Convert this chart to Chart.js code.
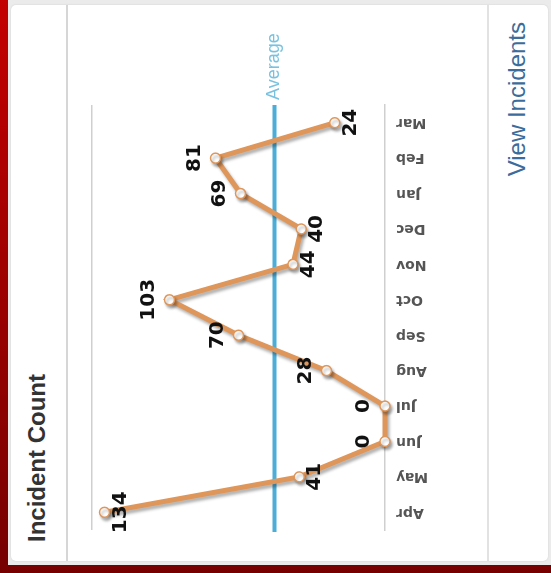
<!DOCTYPE html>
<html>
<head>
<meta charset="utf-8">
<script src="https://cdn.jsdelivr.net/npm/chart.js@4"></script>
<style>
  html, body { margin: 0; padding: 0; width: 551px; height: 573px; overflow: hidden; background: #8a0000; }
  /* the whole card is laid out upright, then turned a quarter left like the screenshot */
  #frame {
    position: absolute; left: 0; top: 0; width: 573px; height: 551px;
    transform-origin: 0 0; transform: translateY(573px) rotate(-90deg);
    background: linear-gradient(to right, #760000, #c40000);
  }
  #panel { position: absolute; left: 8px; top: 8px; right: 0; bottom: 0; background: #ebebeb; }
  #card {
    position: absolute; left: 12px; top: 11px; width: 556px; height: 537px;
    background: #fff; border-radius: 5px; box-shadow: 0 0 2px rgba(0,0,0,0.12);
  }
  .divider { position: absolute; left: 12px; width: 556px; height: 2px; background: #d6d6d6; }
  #title {
    position: absolute; left: 31px; top: 23px; line-height: 30px;
    font: bold 24px "Liberation Sans", Arial, sans-serif; color: #333;
  }
  #link {
    position: absolute; right: 22px; top: 503px; line-height: 30px;
    font: 24px "Liberation Sans", Arial, sans-serif; color: #3b6c9b;
  }
  #chartBox { position: absolute; left: 0; top: 70px; width: 573px; height: 417px; }
</style>
</head>
<body>
<div id="frame">
  <div id="panel"></div>
  <div id="card"></div>
  <div class="divider" style="top:66px"></div>
  <div class="divider" style="top:487px; background:#e2e2e2"></div>
  <div id="title">Incident Count</div>
  <div id="link">View Incidents</div>
  <div id="chartBox"><canvas id="myChart" width="573" height="417"></canvas></div>
</div>
<script>
const months = ['Apr', 'May', 'Jun', 'Jul', 'Aug', 'Sep', 'Oct', 'Nov', 'Dec', 'Jan', 'Feb', 'Mar'];
const incidents = [134, 41, 0, 0, 28, 70, 103, 44, 40, 69, 81, 24];
const axisMax = 140;

const average = incidents.reduce((a, b) => a + b, 0) / incidents.length;

// which side of the point each value label sits on
const labelSide = ['below', 'below', 'above', 'above', 'above', 'above', 'above', 'below', 'below', 'above', 'above', 'below'];

const averageLine = {
    id: 'averageLine',
    beforeDatasetsDraw(chart) {
        const c = chart.ctx, area = chart.chartArea;
        const y = chart.scales.y.getPixelForValue(average);
        c.save();
        c.strokeStyle = '#4aaed8';
        c.lineWidth = 4;
        c.beginPath();
        c.moveTo(area.left - 2, y);
        c.lineTo(area.right, y);
        c.stroke();
        c.fillStyle = '#79c2df';
        c.font = '18px "Liberation Sans", Arial, sans-serif';
        c.textAlign = 'left';
        c.textBaseline = 'middle';
        c.fillText('Average', area.right + 5, y);
        c.restore();
    }
};

const lineShadow = {
    id: 'lineShadow',
    beforeDatasetDraw(chart) {
        const c = chart.ctx;
        c.save();
        c.shadowColor = 'rgba(0,0,0,0.3)';
        c.shadowBlur = 3;
        c.shadowOffsetX = -3;
        c.shadowOffsetY = 2;
    },
    afterDatasetDraw(chart) {
        chart.ctx.restore();
    }
};

const valueLabels = {
    id: 'valueLabels',
    afterDatasetsDraw(chart) {
        const c = chart.ctx;
        const meta = chart.getDatasetMeta(0);
        c.save();
        c.fillStyle = '#111';
        c.font = 'bold 20px "DejaVu Sans", sans-serif';
        c.textAlign = 'center';
        c.textBaseline = 'middle';
        meta.data.forEach((pt, i) => {
            const dy = labelSide[i] === 'above' ? -21 : 16;
            c.fillText(String(incidents[i]), pt.x, pt.y + dy);
        });
        c.restore();
    }
};

const ctx = document.getElementById('myChart');

var myChart = new Chart(ctx, {
    type: 'line',
    data: {
        labels: months,
        datasets: [{
            label: 'Incident Count',
            data: incidents,
            borderColor: '#df965a',
            borderWidth: 5,
            tension: 0,
            pointRadius: 5,
            pointBackgroundColor: '#fff',
            pointBorderColor: '#df965a',
            pointBorderWidth: 1.5,
            clip: false
        }]
    },
    options: {
        responsive: false,
        animation: false,
        layout: { padding: { left: 43, right: 105, top: 22, bottom: 0 } },
        plugins: { legend: { display: false }, tooltip: { enabled: false } },
        scales: {
            x: {
                offset: true,
                grid: { display: false },
                border: { display: true, color: '#cfcfcf', width: 1.5 },
                ticks: {
                    autoSkip: false, minRotation: 90, maxRotation: 90, padding: 3,
                    color: '#555', font: { family: 'DejaVu Sans', weight: 'bold', size: 14 }
                },
                afterFit: s => { s.height = 102; }
            },
            y: {
                min: 0, max: axisMax,
                ticks: { display: false, stepSize: axisMax },
                grid: {
                    drawTicks: false, lineWidth: 1.5,
                    color: c => (c.tick && c.tick.value === axisMax) ? '#cfcfcf' : 'rgba(0,0,0,0)'
                },
                border: { display: false },
                afterFit: s => { s.width = 0; }
            }
        }
    },
    plugins: [averageLine, lineShadow, valueLabels]
});
</script>
</body>
</html>
